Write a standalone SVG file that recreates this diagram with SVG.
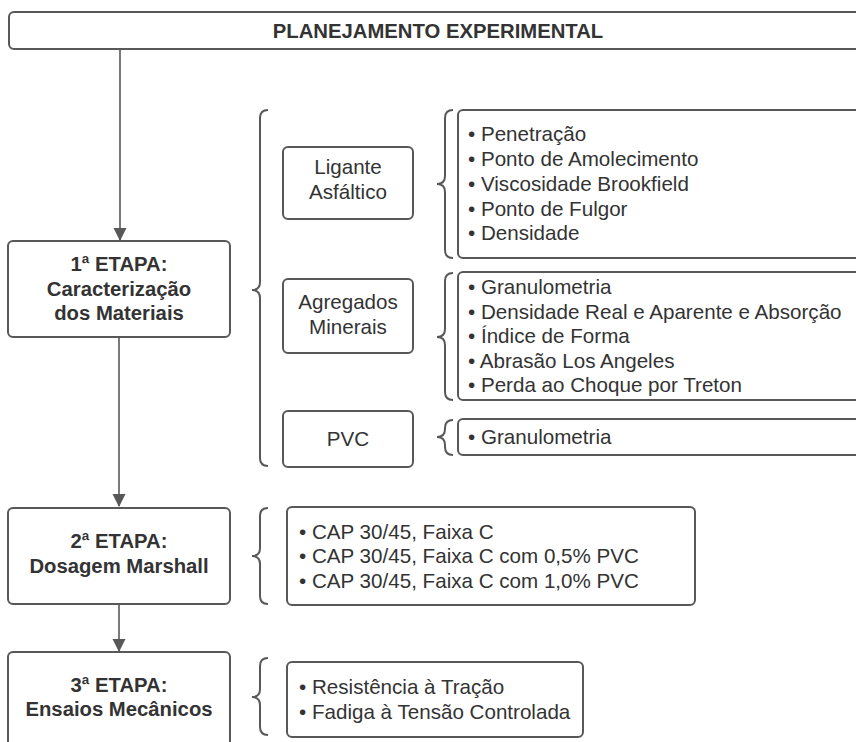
<svg xmlns="http://www.w3.org/2000/svg" width="856" height="742" viewBox="0 0 856 742">
<defs>
<style>
.box{fill:#fff;stroke:#585858;stroke-width:2}
.br{fill:none;stroke:#585858;stroke-width:2}
.ln{fill:none;stroke:#585858;stroke-width:1.6}
.t{font-family:"Liberation Sans",Arial,sans-serif;font-size:20.6px;fill:#333}
.b{font-weight:bold;text-anchor:middle;font-size:20.3px}
.c{text-anchor:middle}
</style>
<marker id="ah" markerWidth="13" markerHeight="14" refX="12" refY="6.5" orient="auto" markerUnits="userSpaceOnUse" viewBox="0 0 13 13">
<path d="M0,0 L13,6.5 L0,13 Z" fill="#585858"/>
</marker>
</defs>
<rect width="856" height="742" fill="#fff"/>

<g id="connectors">
<line class="ln" x1="120" y1="49" x2="120" y2="240" marker-end="url(#ah)"/>
<line class="ln" x1="119" y1="337" x2="119" y2="506" marker-end="url(#ah)"/>
<line class="ln" x1="119" y1="604" x2="119" y2="651" marker-end="url(#ah)"/>
</g>

<g id="braces">
<path class="br" d="M268,110 Q260,110 260,118 L260,282 Q260,290 252,290 Q260,290 260,298 L260,458 Q260,466 268,466"/>
<path class="br" d="M453,110 Q445,110 445,118 L445,176 Q445,184 437,184 Q445,184 445,192 L445,250 Q445,258 453,258"/>
<path class="br" d="M453,273 Q445,273 445,281 L445,329 Q445,337 437,337 Q445,337 445,345 L445,392 Q445,400 453,400"/>
<path class="br" d="M453,420 Q445,420 445,428 L445,429 Q445,437 437,437 Q445,437 445,445 L445,447 Q445,455 453,455"/>
<path class="br" d="M268,508 Q260,508 260,516 L260,548 Q260,556 252,556 Q260,556 260,564 L260,596 Q260,604 268,604"/>
<path class="br" d="M268,658 Q260,658 260,666 L260,689 Q260,697 252,697 Q260,697 260,705 L260,727 Q260,735 268,735"/>
</g>

<g id="title">
<rect class="box" x="9" y="12" width="880" height="37" rx="5"/>
<text class="t b" x="438" y="38">PLANEJAMENTO EXPERIMENTAL</text>
</g>

<g id="etapa1">
<rect class="box" x="8" y="241" width="222" height="96" rx="5"/>
<text class="t b" x="119" y="271">1ª ETAPA:</text>
<text class="t b" x="119" y="296">Caracterização</text>
<text class="t b" x="119" y="320">dos Materiais</text>
</g>

<g id="ligante">
<rect class="box" x="283" y="147" width="130" height="72" rx="5"/>
<text class="t c" x="348" y="174">Ligante</text>
<text class="t c" x="348" y="199">Asfáltico</text>
</g>

<g id="ligante-lista">
<rect class="box" x="458" y="110" width="430" height="148" rx="5"/>
<text class="t" x="468" y="141">• Penetração</text>
<text class="t" x="468" y="166">• Ponto de Amolecimento</text>
<text class="t" x="468" y="191">• Viscosidade Brookfield</text>
<text class="t" x="468" y="215.5">• Ponto de Fulgor</text>
<text class="t" x="468" y="240">• Densidade</text>
</g>

<g id="agregados">
<rect class="box" x="283" y="279" width="130" height="74" rx="5"/>
<text class="t c" x="348" y="309">Agregados</text>
<text class="t c" x="348" y="334">Minerais</text>
</g>

<g id="agregados-lista">
<rect class="box" x="458" y="272" width="430" height="128" rx="5"/>
<text class="t" x="468" y="294">• Granulometria</text>
<text class="t" x="468" y="318.5">• Densidade Real e Aparente e Absorção</text>
<text class="t" x="468" y="343">• Índice de Forma</text>
<text class="t" x="468" y="367.5">• Abrasão Los Angeles</text>
<text class="t" x="468" y="392">• Perda ao Choque por Treton</text>
</g>

<g id="pvc">
<rect class="box" x="283" y="411" width="130" height="56" rx="5"/>
<text class="t c" x="348" y="446">PVC</text>
</g>

<g id="pvc-lista">
<rect class="box" x="458" y="419" width="430" height="36" rx="5"/>
<text class="t" x="468" y="444">• Granulometria</text>
</g>

<g id="etapa2">
<rect class="box" x="8" y="508" width="222" height="96" rx="5"/>
<text class="t b" x="119" y="548">2ª ETAPA:</text>
<text class="t b" x="119" y="573">Dosagem Marshall</text>
</g>

<g id="etapa2-lista">
<rect class="box" x="287" y="507" width="408" height="98" rx="5"/>
<text class="t" x="299" y="538.5">• CAP 30/45, Faixa C</text>
<text class="t" x="299" y="563">• CAP 30/45, Faixa C com 0,5% PVC</text>
<text class="t" x="299" y="587.5">• CAP 30/45, Faixa C com 1,0% PVC</text>
</g>

<g id="etapa3">
<rect class="box" x="8" y="652" width="222" height="110" rx="5"/>
<text class="t b" x="119" y="692">3ª ETAPA:</text>
<text class="t b" x="119" y="716">Ensaios Mecânicos</text>
</g>

<g id="etapa3-lista">
<rect class="box" x="287" y="662" width="296" height="75" rx="5"/>
<text class="t" x="299" y="694">• Resistência à Tração</text>
<text class="t" x="299" y="718.5">• Fadiga à Tensão Controlada</text>
</g>
</svg>
